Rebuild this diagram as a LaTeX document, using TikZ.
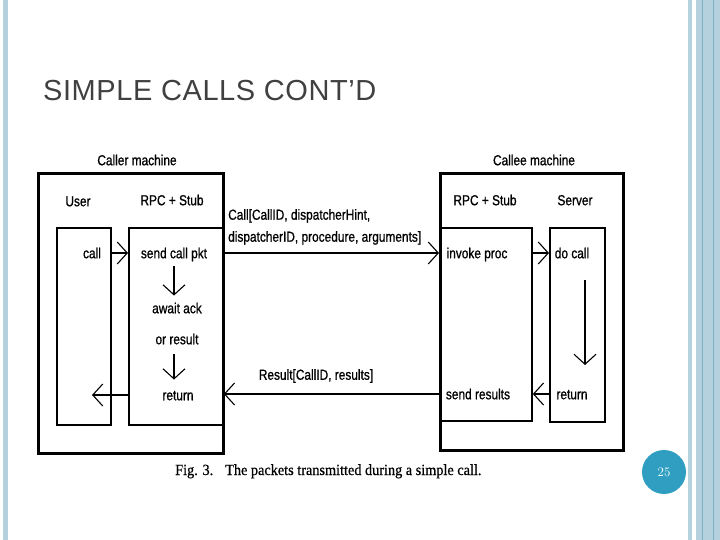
\documentclass[tikz,border=0pt]{standalone}
\usepackage{fontspec}
\usetikzlibrary{arrows.meta}
\newfontfamily\scanfont[FakeStretch=0.82, FakeBold=0.9]{Liberation Sans}
\newfontfamily\slidefont[LetterSpace=2]{Liberation Sans}
\newfontfamily\capfont[FakeBold=0.6, FakeStretch=0.92]{Liberation Serif}
\definecolor{barblue}{HTML}{B5D1DE}
\definecolor{barline}{HTML}{7DAFC6}
\definecolor{numblue}{HTML}{2F9EC1}
\definecolor{titlegray}{HTML}{404040}

\tikzset{
  machine/.style={draw, line width=2.6pt, anchor=north west, inner sep=0pt},
  lane/.style={draw, line width=1.8pt, anchor=north west, inner sep=0pt},
  lbl/.style={font=\scanfont\fontsize{14.5}{17}\selectfont, inner sep=1pt, text height=10.5pt, text depth=0pt},
  pkt/.style={font=\scanfont\fontsize{14.5}{22}\selectfont, inner sep=1pt},
  flow/.style={-{Straight Barb[length=10pt, width=22pt, line width=1.1pt]}, line width=1.1pt},
}

\begin{document}
\begin{tikzpicture}[x=1pt, y=-1pt]
  \useasboundingbox (0,0) rectangle (720,540);

  % Slide borders
  \fill[barblue] (3,0) rectangle (8,540);
  \fill[barblue] (688,0) rectangle (692,540);
  \fill[barblue] (696,0) rectangle (720,540);
  \draw[barline, line width=0.8pt] (702.5,0) -- (702.5,540);
  \draw[barline, line width=0.8pt] (713.5,0) -- (713.5,540);

  % Title
  \node[anchor=base west, inner sep=0pt, font=\slidefont\fontsize{29}{34}\selectfont, text=titlegray] (title) at (43,101) {SIMPLE CALLS CONT’D};

  % Caller machine
  \node[machine, minimum width=185pt, minimum height=280pt] (caller) at (37,172) {};
  \node[lane, minimum width=54pt, minimum height=197pt] (user) at (56,227) {};
  \node[lane, minimum width=94pt, minimum height=197pt] (cstub) at (128,227) {};
  \node[lbl] (callerlbl) at (137,160) {Caller machine};
  \node[lbl] (userlbl) at (78,201) {User};
  \node[lbl] (cstublbl) at (172,200) {RPC + Stub};
  \node[lbl] (call) at (92,253) {call};
  \node[lbl] (sendpkt) at (174,253) {send call pkt};
  \node[lbl] (await) at (177,308) {await ack};
  \node[lbl] (orres) at (177,339) {or result};
  \node[lbl] (cret) at (178,395) {return};
  \coordinate (usertip) at (92,395);

  % Callee machine
  \node[machine, minimum width=183pt, minimum height=277pt] (callee) at (439,172) {};
  \node[lane, minimum width=92pt, minimum height=193pt] (estub) at (439,227) {};
  \node[lane, minimum width=55pt, minimum height=194pt] (server) at (549,227) {};
  \node[lbl] (calleelbl) at (534,160) {Callee machine};
  \node[lbl] (estublbl) at (485,200) {RPC + Stub};
  \node[lbl] (serverlbl) at (575,200) {Server};
  \node[lbl] (invoke) at (477,253) {invoke proc};
  \node[lbl] (docall) at (572,253) {do call};
  \node[lbl] (sres) at (478,394) {send results};
  \node[lbl] (sret) at (572,394) {return};
  \coordinate (srvtop) at (585,280);
  \coordinate (srvbot) at (585,365);

  % Packets
  \node[pkt, anchor=north west, align=left] (callpkt) at (227,208) {Call[CallID, dispatcherHint,\\dispatcherID, procedure, arguments]};
  \node[pkt] (respkt) at (316,376) {Result[CallID, results]};

  % Flow arrows
  \draw[flow] (user.east |- call) -- (cstub.west |- call);
  \draw[flow, shorten <=7pt, shorten >=6pt] (sendpkt.south) -- (sendpkt.south |- await.north);
  \draw[flow, shorten <=9pt, shorten >=9pt] (sendpkt.south |- orres.south) -- (sendpkt.south |- cret.north);
  \draw[flow] (cstub.east |- sendpkt) -- (estub.west |- sendpkt);
  \draw[flow] (estub.east |- invoke) -- (server.west |- invoke);
  \draw[flow] (srvtop) -- (srvbot);
  \draw[flow] (server.west |- sret) -- (estub.east |- sret);
  \draw[flow] (estub.west |- sres) -- (cstub.east |- sres);
  \draw[flow] (cstub.west |- cret) -- (usertip);

  % Caption
  \node[font=\capfont\fontsize{15.5}{19}\selectfont, inner sep=0pt, anchor=base west] (caption) at (175,475) {Fig. 3.\hspace{12pt}The packets transmitted during a simple call.};

  % Page number
  \node[circle, fill=numblue, minimum size=44pt, inner sep=0pt, text=white, font=\fontsize{13}{15}\selectfont] (pageno) at (664,472) {25};
\end{tikzpicture}
\end{document}
